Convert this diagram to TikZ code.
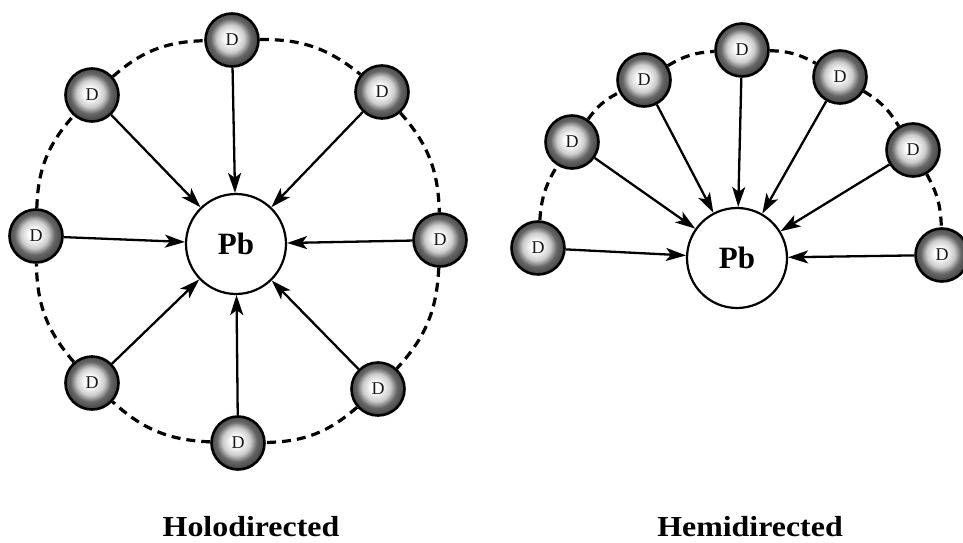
\documentclass[tikz,border=0pt]{standalone}
\usepackage{fontspec}
\setmainfont{Liberation Serif}
\newfontfamily\labfont[FakeStretch=1.1]{Liberation Serif}
\usetikzlibrary{arrows.meta}
\pgfdeclareradialshading{dball}{\pgfpoint{-2bp}{2bp}}{%
  color(0bp)=(white);
  color(5bp)=(white);
  color(13bp)=(gray!40);
  color(19bp)=(gray!80!black);
  color(25bp)=(black!72);
  color(50bp)=(black!72)}
\tikzset{
  donor/.style={circle, draw=black, line width=2.6pt, minimum size=53pt, inner sep=0pt,
    shading=dball, font=\fontsize{18}{18}\selectfont, text=black!90},
  metal/.style={circle, draw=black, line width=2.2pt, minimum size=100pt, inner sep=0pt,
    fill=white, font=\fontsize{31}{31}\selectfont\bfseries},
  bond/.style={line width=2.3pt, -{Stealth[length=20pt,width=13pt,inset=5pt]}},
  ring/.style={line width=3.2pt, dash pattern=on 9pt off 6pt},
  caption/.style={anchor=base, font=\labfont\fontsize{29}{29}\selectfont\bfseries}
}
\begin{document}
\begin{tikzpicture}[x=1pt,y=-1pt]
\useasboundingbox (0,0) rectangle (963,543);
% left: holodirected
\node[metal] (pbL) at (236,244) {Pb};
\node[donor] (l1) at (232,40) {D};
\node[donor] (l2) at (382,92) {D};
\node[donor] (l3) at (440,240) {D};
\node[donor] (l4) at (378,389) {D};
\node[donor] (l5) at (238,443) {D};
\node[donor] (l6) at (92,383) {D};
\node[donor] (l7) at (36,236) {D};
\node[donor] (l8) at (92,95) {D};
\foreach \a/\b in {l1/l2,l2/l3,l3/l4,l4/l5,l5/l6,l6/l7,l7/l8,l8/l1}
  \draw[ring] (\a) to[bend left=20] (\b);
\foreach \a in {l1,l2,l3,l4,l5,l6,l7,l8}
  \draw[bond] (\a) -- (pbL);
% right: hemidirected
\node[metal] (pbR) at (737,258) {Pb};
\node[donor] (r1) at (538,248) {D};
\node[donor] (r2) at (572,142) {D};
\node[donor] (r3) at (644,80) {D};
\node[donor] (r4) at (742,50) {D};
\node[donor] (r5) at (840,77) {D};
\node[donor] (r6) at (913,150) {D};
\node[donor] (r7) at (942,255) {D};
\foreach \a/\b in {r1/r2,r2/r3,r3/r4,r4/r5,r5/r6,r6/r7}
  \draw[ring] (\a) to[bend left=14] (\b);
\foreach \a in {r1,r2,r3,r4,r5,r6,r7}
  \draw[bond] (\a) -- (pbR);
% captions
\node[caption] (capL) at (251,536) {Holodirected};
\node[caption] (capR) at (750,536) {Hemidirected};
\end{tikzpicture}
\end{document}
